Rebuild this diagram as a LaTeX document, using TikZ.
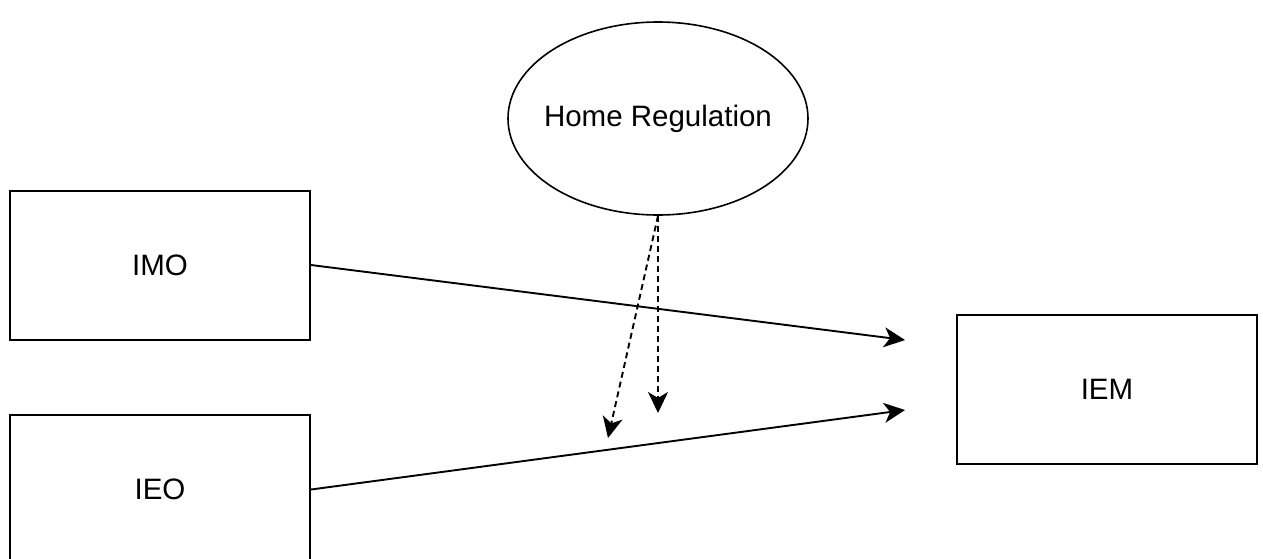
\documentclass[tikz,border=0pt]{standalone}
\usepackage{fontspec}
\setmainfont{Liberation Sans}
\usetikzlibrary{arrows.meta,shapes.geometric}
\begin{document}
\begin{tikzpicture}[x=1pt,y=-1pt,
  box/.style={draw,line width=2pt,minimum width=300pt,minimum height=149pt,inner sep=0pt,font=\fontsize{29.5}{34}\selectfont},
  oval/.style={draw,ellipse,line width=1.6pt,minimum width=300pt,minimum height=193pt,inner xsep=-15pt,inner ysep=0pt,font=\fontsize{29.5}{34}\selectfont},
  link/.style={line width=1.9pt,-{Stealth[length=21pt,width=20pt,inset=6pt]}},
  dlink/.style={link,dash pattern=on 6pt off 4pt}]
\useasboundingbox (0,0) rectangle (1263,558);
\begin{scope}
\clip (0,0) rectangle (1263,558);
\node[box] (imo) at (160,265) {IMO};
\node[box] (ieo) at (160,489.5) {IEO};
\node[box] (iem) at (1107,389) {IEM};
\node[oval] (hr) at (658,118.5) {Home Regulation};
\coordinate (t1) at (905,340);
\coordinate (t2) at (905,410);
\coordinate (d1) at (658,413);
\coordinate (d2) at (608,438);
\draw[link] (imo.east) -- (t1);
\draw[link] (ieo.east) -- (t2);
\draw[dlink] (hr.south) -- (d1);
\draw[dlink] (hr.south) -- (d2);
\end{scope}
\end{tikzpicture}
\end{document}
